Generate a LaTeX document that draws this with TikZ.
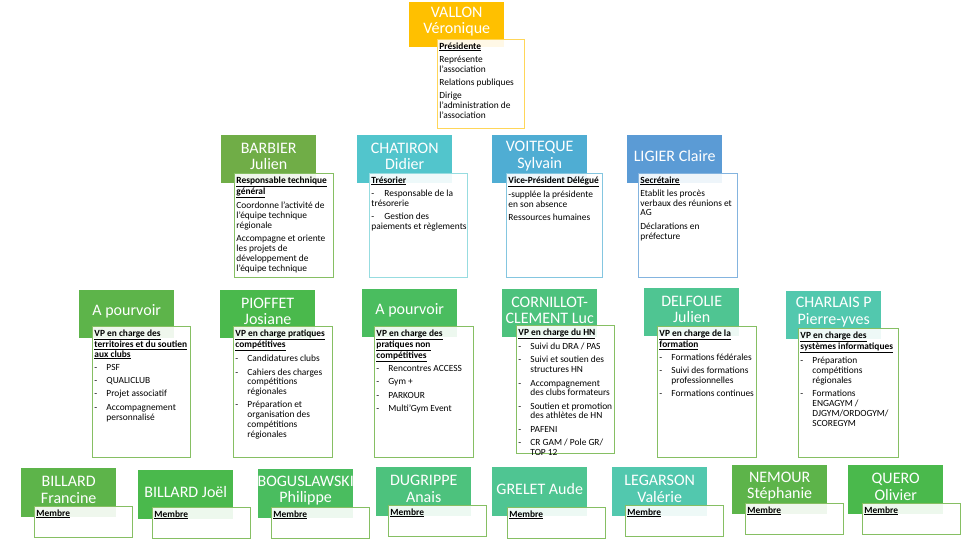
\documentclass[tikz,border=0pt]{standalone}
\usepackage{fontspec}
\setmainfont{Carlito}
\usepackage{tikz}

\definecolor{cVallon}{HTML}{FFC000}
\definecolor{cBarbier}{HTML}{70AD47}
\definecolor{cChatiron}{HTML}{52C5CC}
\definecolor{cVoiteque}{HTML}{4FADD3}
\definecolor{cLigier}{HTML}{5B9BD5}
\definecolor{cGreenA}{HTML}{5DB44A}
\definecolor{cGreenB}{HTML}{4AB94C}
\definecolor{cGreenC}{HTML}{4ABD5F}
\definecolor{cGreenD}{HTML}{4DC27D}
\definecolor{cGreenE}{HTML}{4FC592}
\definecolor{cGreenF}{HTML}{52C8AE}
\definecolor{cBorder}{HTML}{86BF63}

\tikzset{
  namebox/.style={anchor=north west, minimum width=95pt, minimum height=48pt, inner sep=0pt},
  nametext/.style={text=white, align=center, inner sep=0pt, font=\fontsize{16}{16.5}\selectfont},
  descbox/.style={anchor=north west, fill=white, fill opacity=0.9, text opacity=1,
    inner xsep=2pt, inner ysep=3pt, line width=0.9pt, font=\fontsize{9.4}{9.8}\selectfont},
}

% id, name box options, name corner, name, border colour, desc corner, desc width, desc height, desc text
\newcommand{\card}[9]{%
  \node[namebox, #2] (#1) at (#3) {};
  \node[nametext] (#1-name) at ([yshift=3pt]#1.center) {#4};
  \node[descbox, draw=#5] (#1-desc) at (#6)
    {\begin{minipage}[t][\dimexpr#8pt-6pt\relax][t]{\dimexpr#7pt-4pt\relax}%
      \raggedright\let\\\newline\setlength{\parskip}{3.5pt}#9\end{minipage}};
}
\newcommand{\hd}[1]{\textbf{\underline{#1}}}
\newcommand{\itm}[1]{\par\hangindent=12pt\hangafter=1\noindent\makebox[12pt][l]{-}#1}
\newcommand{\itmflat}[1]{\par\noindent\makebox[13pt][l]{-}#1}

\begin{document}
\begin{tikzpicture}[x=1pt, y=-1pt]
\fill[white] (0,0) rectangle (974,548);
\useasboundingbox (0,0) rectangle (974,548);

% Presidente
\card{vallon}{fill=cVallon, minimum height=45pt}{409,2}{VALLON\\Véronique}{cVallon!65!white}{437,39}{87}{89}
  {\hd{Présidente}\par Représente\\l’association\par Relations publiques\par Dirige\\l’administration de\\l’association}

% Bureau
\card{barbier}{fill=cBarbier}{221,135}{BARBIER\\Julien}{cBorder}{234,173}{99}{104}
  {\hd{Responsable technique}\\\hd{général}\par Coordonne l’activité de\\l’équipe technique\\régionale\par
   Accompagne et oriente\\les projets de\\développement de\\l’équipe technique}
\card{chatiron}{fill=cChatiron}{357,135}{CHATIRON\\Didier}{cChatiron!60!white}{369,173}{98}{104}
  {\hd{Trésorier}\itmflat{Responsable de la\\trésorerie}\itmflat{Gestion des\\\mbox{paiements et règlements}}}
\card{voiteque}{fill=cVoiteque}{492,135}{VOITEQUE\\Sylvain}{cVoiteque!70!white}{506,173}{96}{104}
  {\hd{Vice-Président Délégué}\par -supplée la présidente\\en son absence\par Ressources humaines}
\card{ligier}{fill=cLigier}{627,135}{LIGIER Claire}{cLigier!75!white}{638,173}{99}{104}
  {\hd{Secrétaire}\par Etablit les procès\\verbaux des réunions et\\AG\par Déclarations en\\préfecture}

% Vice-presidents
\card{pourvoirA}{fill=cGreenA}{79,290}{A pourvoir}{cBorder}{92,326}{98}{131}
  {\hd{VP en charge des}\\\hd{territoires et du soutien}\\\hd{aux clubs}
   \itm{PSF}\itm{QUALICLUB}\itm{Projet associatif}\itm{Accompagnement\\personnalisé}}
\card{pioffet}{fill=cGreenB}{220,290}{PIOFFET\\Josiane}{cBorder}{233,326}{99}{131}
  {\hd{VP en charge pratiques}\\\hd{compétitives}
   \itm{Candidatures clubs}\itm{Cahiers des charges\\compétitions\\régionales}
   \itm{Préparation et\\organisation des\\compétitions\\régionales}}
\card{pourvoirB}{fill=cGreenC}{362,289}{A pourvoir}{cBorder}{374,326}{99}{131}
  {\hd{VP en charge des}\\\hd{pratiques non}\\\hd{compétitives}
   \itm{Rencontres ACCESS}\itm{Gym +}\itm{PARKOUR}\itm{Multi’Gym Event}}
\card{cornillot}{fill=cGreenD}{502,289}{CORNILLOT-\\CLEMENT Luc}{cBorder}{516,325}{98}{128}
  {\hd{VP en charge du HN}
   \itm{Suivi du DRA / PAS}\itm{Suivi et soutien des\\structures HN}
   \itm{Accompagnement\\des clubs formateurs}\itm{Soutien et promotion\\des athlètes de HN}
   \itm{PAFENI}\itm{CR GAM / Pole GR/\\TOP 12}}
\card{delfolie}{fill=cGreenE}{644,288}{DELFOLIE\\Julien}{cBorder}{657,326}{99}{131}
  {\hd{VP en charge de la}\\\hd{formation}
   \itm{Formations fédérales}\itm{Suivi des formations\\professionnelles}\itm{Formations continues}}
\card{charlais}{fill=cGreenF}{786,291}{CHARLAIS P\\Pierre-yves}{cBorder}{798,328}{100}{129}
  {\hd{VP en charge des}\\\hd{systèmes informatiques}
   \itm{Préparation\\compétitions\\régionales}\itm{Formations\\ENGAGYM /\\DJGYM/ORDOGYM/\\SCOREGYM}}

% Membres
\card{billardF}{fill=cGreenA, minimum height=49pt}{21,468}{BILLARD\\Francine}{cBorder}{34,506}{98}{31}{\hd{Membre}}
\card{billardJ}{fill=cGreenB, minimum height=49pt}{138,470}{BILLARD Joël}{cBorder}{152,507}{98}{31}{\hd{Membre}}
\card{boguslawski}{fill=cGreenC, minimum height=49pt}{258,469}{BOGUSLAWSKI\\Philippe}{cBorder}{271,507}{98}{31}{\hd{Membre}}
\card{dugrippe}{fill=cGreenD, minimum height=49pt}{376,467}{DUGRIPPE\\Anais}{cBorder}{388,505}{98}{31}{\hd{Membre}}
\card{grelet}{fill=cGreenE, minimum height=49pt}{492,467}{GRELET Aude}{cBorder}{507,507}{98}{31}{\hd{Membre}}
\card{legarson}{fill=cGreenF, minimum height=49pt}{612,467}{LEGARSON\\Valérie}{cBorder}{625,505}{98}{31}{\hd{Membre}}
\card{nemour}{fill=cGreenA, minimum height=49pt}{732,465}{NEMOUR\\Stéphanie}{cBorder}{745,503}{98}{31}{\hd{Membre}}
\card{quero}{fill=cGreenB, minimum height=49pt}{848,465}{QUERO\\Olivier}{cBorder}{862,503}{98}{31}{\hd{Membre}}
\end{tikzpicture}
\end{document}
